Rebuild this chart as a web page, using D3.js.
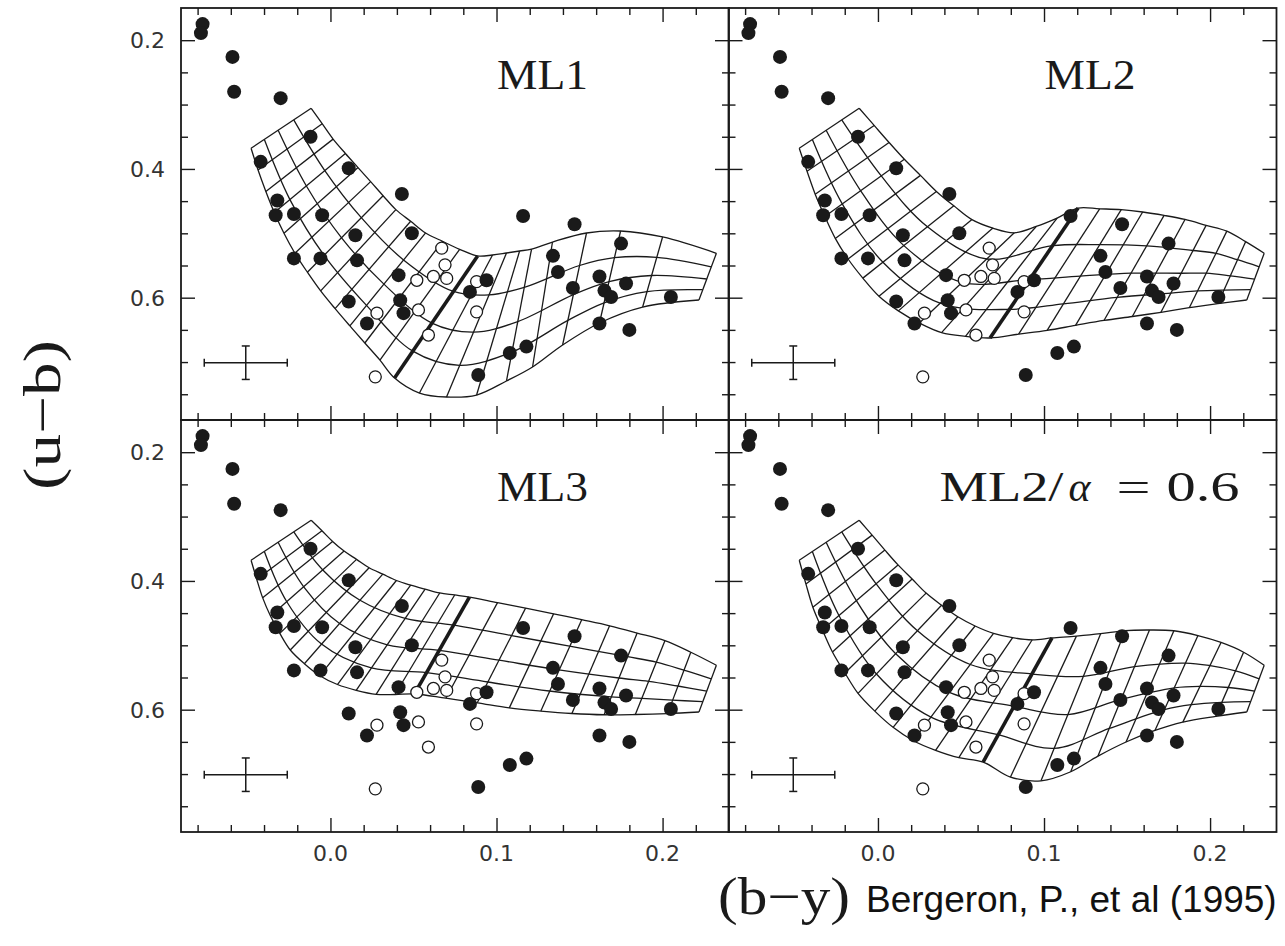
<!DOCTYPE html>
<html>
<head>
<meta charset="utf-8">
<script src="https://cdn.jsdelivr.net/npm/d3@7"></script>
<style>
body { margin: 0; background: #fff; }
</style>
</head>
<body>
<svg id="fig" width="1285" height="946"></svg>
<script>
// observed stars, (b-y) vs (u-b)
var filledStars = [
    [-0.077, 0.175], [-0.078, 0.189], [-0.059, 0.226], [-0.058, 0.280], [-0.030, 0.290],
    [-0.012, 0.350], [-0.042, 0.389], [0.011, 0.399], [0.043, 0.439], [-0.032, 0.449],
    [0.116, 0.473], [-0.033, 0.472], [-0.022, 0.470], [-0.005, 0.472], [0.015, 0.503],
    [0.049, 0.500], [-0.022, 0.539], [-0.006, 0.539], [0.016, 0.542], [0.041, 0.565],
    [0.094, 0.573], [0.084, 0.591], [0.011, 0.606], [0.042, 0.604], [0.044, 0.624],
    [0.022, 0.640], [0.108, 0.686], [0.118, 0.676], [0.089, 0.720], [0.147, 0.486],
    [0.175, 0.516], [0.134, 0.535], [0.137, 0.560], [0.162, 0.567], [0.146, 0.585],
    [0.165, 0.589], [0.169, 0.599], [0.178, 0.578], [0.205, 0.599], [0.162, 0.640],
    [0.180, 0.650]
];
var openStars = [
    [0.067, 0.523], [0.069, 0.549], [0.052, 0.573], [0.062, 0.567], [0.070, 0.570],
    [0.088, 0.575], [0.088, 0.622], [0.053, 0.619], [0.028, 0.624], [0.059, 0.658],
    [0.027, 0.723]
];
// typical error bar: centre and half sizes
var errorBar = [-0.051, 0.701, 0.025, 0.026];

var panelNames = ["ML1", "ML2", "ML3", "ML2/\u03b1=0.6"];
var xMajor = [0.0, 0.1, 0.2];
var xMinor = [-0.08, -0.06, -0.04, -0.02, 0.02, 0.04, 0.06, 0.08, 0.12, 0.14, 0.16, 0.18, 0.22];
var yMajor = [0.2, 0.4, 0.6];
var yMinor = [0.25, 0.3, 0.35, 0.45, 0.5, 0.55, 0.65, 0.7, 0.75];

// model grids: nodes of each Teff column on the upper and lower edge tracks,
// plus the three inner log g tracks; the thick column is picked by index

// ML1
var ml1Top = [
    [-0.0116, 0.3058], [-0.0050, 0.3297], [0.0016, 0.3537], [0.0090, 0.3760], [0.0166, 0.3979],
    [0.0242, 0.4197], [0.0317, 0.4416], [0.0394, 0.4632], [0.0483, 0.4813], [0.0573, 0.4994],
    [0.0675, 0.5124], [0.0778, 0.5248], [0.0886, 0.5352], [0.0976, 0.5337], [0.1060, 0.5306],
    [0.1139, 0.5275], [0.1211, 0.5244], [0.1337, 0.5135], [0.1542, 0.4995], [0.1747, 0.4964],
    [0.2000, 0.5057], [0.2324, 0.5310]
];
var ml1Bottom = [
    [-0.0478, 0.3679], [-0.0436, 0.4017], [-0.0389, 0.4349], [-0.0338, 0.4678], [-0.0280, 0.5000],
    [-0.0214, 0.5310], [-0.0139, 0.5604], [-0.0059, 0.5895], [0.0028, 0.6170], [0.0117, 0.6438],
    [0.0207, 0.6704], [0.0298, 0.6969], [0.0386, 0.7248], [0.0536, 0.7481], [0.0699, 0.7543],
    [0.0880, 0.7512], [0.1060, 0.7294], [0.1217, 0.7077], [0.1398, 0.6735], [0.1620, 0.6393],
    [0.1880, 0.6145], [0.2219, 0.6036]
];
var ml1Inner = [
    [[-0.0221, 0.3238], [-0.0034, 0.4026], [0.0187, 0.4761], [0.0440, 0.5413], [0.0740, 0.5902],
     [0.0955, 0.5955], [0.1167, 0.5839], [0.1500, 0.5500], [0.1710, 0.5379], [0.1965, 0.5373], [0.2293, 0.5520]],
    [[-0.0315, 0.3400], [-0.0145, 0.4265], [0.0067, 0.5070], [0.0322, 0.5789], [0.0611, 0.6395],
     [0.0861, 0.6536], [0.1128, 0.6371], [0.1463, 0.5952], [0.1678, 0.5750], [0.1934, 0.5655], [0.2266, 0.5710]],
    [[-0.0398, 0.3543], [-0.0244, 0.4476], [-0.0038, 0.5343], [0.0217, 0.6120], [0.0496, 0.6831],
     [0.0778, 0.7050], [0.1093, 0.6844], [0.1430, 0.6353], [0.1648, 0.6079], [0.1906, 0.5905], [0.2242, 0.5876]]
];

// ML2
var ml2Top = [
    [-0.0113, 0.3058], [-0.0023, 0.3324], [0.0067, 0.3589], [0.0159, 0.3850], [0.0256, 0.4100],
    [0.0352, 0.4349], [0.0457, 0.4573], [0.0566, 0.4787], [0.0692, 0.4919], [0.0821, 0.4992],
    [0.0953, 0.4894], [0.1079, 0.4764], [0.1205, 0.4607], [0.1335, 0.4619], [0.1465, 0.4633],
    [0.1594, 0.4669], [0.1723, 0.4722], [0.1849, 0.4785], [0.1976, 0.4876], [0.2101, 0.4966],
    [0.2214, 0.5130], [0.2326, 0.5310]
];
var ml2Bottom = [
    [-0.0474, 0.3679], [-0.0427, 0.4037], [-0.0378, 0.4392], [-0.0320, 0.4739], [-0.0257, 0.5079],
    [-0.0180, 0.5399], [-0.0091, 0.5696], [0.0006, 0.5977], [0.0123, 0.6205], [0.0249, 0.6393],
    [0.0383, 0.6542], [0.0527, 0.6600], [0.0675, 0.6626], [0.0847, 0.6567], [0.1019, 0.6508],
    [0.1190, 0.6430], [0.1361, 0.6354], [0.1532, 0.6292], [0.1704, 0.6227], [0.1875, 0.6156],
    [0.2047, 0.6093], [0.2221, 0.6036]
];
var ml2Inner = [
    [[-0.0218, 0.3238], [0.0020, 0.4108], [0.0298, 0.4899], [0.0655, 0.5399], [0.1051, 0.5192],
     [0.1335, 0.5177], [0.1618, 0.5196], [0.1897, 0.5267], [0.2035, 0.5310], [0.2165, 0.5410], [0.2296, 0.5520]],
    [[-0.0312, 0.3400], [-0.0104, 0.4340], [0.0156, 0.5191], [0.0506, 0.5762], [0.0913, 0.5717],
     [0.1219, 0.5665], [0.1524, 0.5620], [0.1826, 0.5620], [0.1977, 0.5620], [0.2122, 0.5660], [0.2268, 0.5710]],
    [[-0.0395, 0.3543], [-0.0215, 0.4543], [0.0030, 0.5449], [0.0374, 0.6086], [0.0792, 0.6182],
     [0.1117, 0.6095], [0.1440, 0.5996], [0.1764, 0.5930], [0.1924, 0.5895], [0.2084, 0.5881], [0.2244, 0.5876]]
];

// ML3
var ml3Top = [
    [-0.0116, 0.3058], [-0.0051, 0.3221], [0.0013, 0.3386], [0.0082, 0.3536], [0.0157, 0.3665],
    [0.0233, 0.3796], [0.0315, 0.3895], [0.0397, 0.3993], [0.0483, 0.4065], [0.0570, 0.4127],
    [0.0658, 0.4187], [0.0748, 0.4218], [0.0837, 0.4250], [0.1006, 0.4337], [0.1175, 0.4423],
    [0.1344, 0.4510], [0.1513, 0.4602], [0.1681, 0.4697], [0.1847, 0.4809], [0.2014, 0.4928],
    [0.2170, 0.5108], [0.2324, 0.5310]
];
var ml3Bottom = [
    [-0.0478, 0.3679], [-0.0444, 0.3973], [-0.0408, 0.4263], [-0.0361, 0.4545], [-0.0305, 0.4815],
    [-0.0242, 0.5073], [-0.0157, 0.5286], [-0.0064, 0.5472], [0.0042, 0.5609], [0.0155, 0.5699],
    [0.0275, 0.5761], [0.0389, 0.5764], [0.0506, 0.5756], [0.0695, 0.5822], [0.0884, 0.5893],
    [0.1077, 0.5972], [0.1267, 0.6022], [0.1454, 0.6059], [0.1648, 0.6079], [0.1836, 0.6075],
    [0.2030, 0.6061], [0.2219, 0.6036]
];
var ml3Inner = [
    [[-0.0221, 0.3238], [-0.0046, 0.3829], [0.0178, 0.4299], [0.0450, 0.4582], [0.0742, 0.4686],
     [0.1091, 0.4849], [0.1440, 0.5014], [0.1789, 0.5177], [0.1962, 0.5261], [0.2128, 0.5385], [0.2293, 0.5520]],
    [[-0.0315, 0.3400], [-0.0161, 0.4091], [0.0055, 0.4660], [0.0342, 0.4992], [0.0655, 0.5079],
     [0.1015, 0.5231], [0.1375, 0.5383], [0.1736, 0.5508], [0.1916, 0.5559], [0.2091, 0.5632], [0.2266, 0.5710]],
    [[-0.0398, 0.3543], [-0.0263, 0.4323], [-0.0054, 0.4980], [0.0246, 0.5352], [0.0579, 0.5425],
     [0.0948, 0.5570], [0.1318, 0.5710], [0.1689, 0.5800], [0.1875, 0.5823], [0.2058, 0.5851], [0.2242, 0.5876]]
];

// ML2 with alpha = 0.6
var ml2aTop = [
    [-0.0113, 0.3058], [-0.0035, 0.3288], [0.0042, 0.3521], [0.0121, 0.3751], [0.0206, 0.3971],
    [0.0290, 0.4189], [0.0383, 0.4378], [0.0481, 0.4557], [0.0585, 0.4700], [0.0696, 0.4815],
    [0.0811, 0.4882], [0.0929, 0.4914], [0.1048, 0.4886], [0.1195, 0.4857], [0.1341, 0.4820],
    [0.1488, 0.4771], [0.1635, 0.4762], [0.1782, 0.4774], [0.1927, 0.4849], [0.2066, 0.4956],
    [0.2202, 0.5107], [0.2326, 0.5310]
];
var ml2aBottom = [
    [-0.0474, 0.3679], [-0.0434, 0.4046], [-0.0392, 0.4408], [-0.0335, 0.4757], [-0.0274, 0.5104],
    [-0.0199, 0.5430], [-0.0120, 0.5747], [-0.0019, 0.6022], [0.0091, 0.6274], [0.0213, 0.6482],
    [0.0347, 0.6631], [0.0487, 0.6746], [0.0633, 0.6813], [0.0798, 0.7047], [0.0982, 0.7105],
    [0.1161, 0.6964], [0.1325, 0.6721], [0.1494, 0.6502], [0.1668, 0.6323], [0.1836, 0.6193],
    [0.2034, 0.6104], [0.2221, 0.6036]
];
var ml2aInner = [
    [[-0.0218, 0.3238], [-0.0011, 0.4045], [0.0238, 0.4775], [0.0556, 0.5298], [0.0928, 0.5446],
     [0.1237, 0.5483], [0.1545, 0.5331], [0.1851, 0.5276], [0.2000, 0.5315], [0.2153, 0.5396], [0.2296, 0.5520]],
    [[-0.0312, 0.3400], [-0.0130, 0.4306], [0.0107, 0.5132], [0.0430, 0.5731], [0.0819, 0.5946],
     [0.1144, 0.6076], [0.1464, 0.5840], [0.1785, 0.5660], [0.1940, 0.5637], [0.2110, 0.5655], [0.2268, 0.5710]],
    [[-0.0395, 0.3543], [-0.0235, 0.4537], [-0.0009, 0.5446], [0.0319, 0.6115], [0.0724, 0.6389],
     [0.1061, 0.6601], [0.1393, 0.6291], [0.1725, 0.5999], [0.1887, 0.5921], [0.2071, 0.5885], [0.2244, 0.5876]]
];

var thickColumn = 12;
var grids = [
    { top: ml1Top, bottom: ml1Bottom, inner: ml1Inner },
    { top: ml2Top, bottom: ml2Bottom, inner: ml2Inner },
    { top: ml3Top, bottom: ml3Bottom, inner: ml3Inner },
    { top: ml2aTop, bottom: ml2aBottom, inner: ml2aInner }
];

var W = 548, H = 412;
var origins = [[181, 8], [728.5, 8], [181, 420], [728.5, 420]];
var ink = "#1a1a1a";

var svg = d3.select("#fig");
svg.append("rect").attr("width", 1285).attr("height", 946).attr("fill", "#fff");

var x = d3.scaleLinear().domain([-0.09, 0.24]).range([0, W]);
var y = d3.scaleLinear().domain([0.15, 0.79]).range([0, H]);

var track = d3.line()
    .x(function(d) { return x(d[0]); })
    .y(function(d) { return y(d[1]); })
    .curve(d3.curveCatmullRom.alpha(0.5));

function ticks(g, axis, values, size, tx, ty) {
    g.append("g")
        .attr("transform", "translate(" + tx + "," + ty + ")")
        .call(axis.tickValues(values).tickSize(-size).tickFormat(""))
        .call(function(s) { s.select(".domain").remove(); })
        .selectAll("line").attr("stroke", ink).attr("stroke-width", 1.4);
}

origins.forEach(function(o, i) {
    var g = svg.append("g").attr("transform", "translate(" + o[0] + "," + o[1] + ")");
    var clip = "clip" + i;
    g.append("clipPath").attr("id", clip).append("rect").attr("width", W).attr("height", H);
    var plot = g.append("g").attr("clip-path", "url(#" + clip + ")");

    // model grid
    var grid = grids[i];
    [grid.top, grid.bottom].concat(grid.inner).forEach(function(r) {
        plot.append("path").attr("d", track(r))
            .attr("fill", "none").attr("stroke", ink).attr("stroke-width", 1.3);
    });
    grid.top.forEach(function(p, k) {
        var q = grid.bottom[k];
        plot.append("line")
            .attr("x1", x(p[0])).attr("y1", y(p[1]))
            .attr("x2", x(q[0])).attr("y2", y(q[1]))
            .attr("stroke", ink)
            .attr("stroke-width", k === thickColumn ? 3.6 : 1.3);
    });

    // stars
    plot.selectAll(".open").data(openStars).enter().append("circle")
        .attr("cx", function(d) { return x(d[0]); })
        .attr("cy", function(d) { return y(d[1]); })
        .attr("r", 6).attr("fill", "#fff").attr("stroke", ink).attr("stroke-width", 1.3);
    plot.selectAll(".filled").data(filledStars).enter().append("circle")
        .attr("cx", function(d) { return x(d[0]); })
        .attr("cy", function(d) { return y(d[1]); })
        .attr("r", 7).attr("fill", ink);

    // error bar
    var ex = errorBar[0], ey = errorBar[1], hx = errorBar[2], hy = errorBar[3];
    var eb = plot.append("g").attr("stroke", ink).attr("stroke-width", 1.5);
    eb.append("line").attr("x1", x(ex - hx)).attr("x2", x(ex + hx)).attr("y1", y(ey)).attr("y2", y(ey));
    eb.append("line").attr("x1", x(ex)).attr("x2", x(ex)).attr("y1", y(ey - hy)).attr("y2", y(ey + hy));
    [ex - hx, ex + hx].forEach(function(v) {
        eb.append("line").attr("x1", x(v)).attr("x2", x(v)).attr("y1", y(ey) - 4).attr("y2", y(ey) + 4);
    });
    [ey - hy, ey + hy].forEach(function(v) {
        eb.append("line").attr("x1", x(ex) - 4).attr("x2", x(ex) + 4).attr("y1", y(v)).attr("y2", y(v));
    });

    // ticks on all four sides, pointing inward
    ticks(g, d3.axisBottom(x), xMajor, 14, 0, H);
    ticks(g, d3.axisBottom(x), xMinor, 7, 0, H);
    ticks(g, d3.axisTop(x), xMajor, 14, 0, 0);
    ticks(g, d3.axisTop(x), xMinor, 7, 0, 0);
    ticks(g, d3.axisLeft(y), yMajor, 14, 0, 0);
    ticks(g, d3.axisLeft(y), yMinor, 7, 0, 0);
    ticks(g, d3.axisRight(y), yMajor, 14, W, 0);
    ticks(g, d3.axisRight(y), yMinor, 7, W, 0);

    g.append("rect").attr("width", W).attr("height", H)
        .attr("fill", "none").attr("stroke", ink).attr("stroke-width", 1.8);

    // tick labels
    if (i % 2 === 0) {
        g.selectAll(".ylab").data(yMajor).enter().append("text")
            .attr("x", -16).attr("y", function(d) { return y(d); })
            .attr("dy", "0.36em").attr("text-anchor", "end")
            .attr("font-family", "DejaVu Sans").attr("font-size", 22).attr("fill", "#333")
            .text(d3.format(".1f"));
    }
    if (i >= 2) {
        g.selectAll(".xlab").data(xMajor).enter().append("text")
            .attr("x", function(d) { return x(d); }).attr("y", H + 29)
            .attr("text-anchor", "middle")
            .attr("font-family", "DejaVu Sans").attr("font-size", 22).attr("fill", "#333")
            .text(d3.format(".1f"));
    }

    // panel title
    var title = g.append("text").attr("y", 81)
        .attr("font-family", "Liberation Serif").attr("font-size", 42).attr("fill", ink);
    if (i < 3) {
        title.attr("x", 316).attr("textLength", 91).attr("lengthAdjust", "spacingAndGlyphs")
            .text(panelNames[i]);
    } else {
        var parts = panelNames[i].split(/(\u03b1|=)/);
        // "ML2/", "α", "", "=", "0.6"
        title.append("tspan").attr("x", 211).attr("textLength", 124)
            .attr("lengthAdjust", "spacingAndGlyphs").text(parts[0]);
        title.append("tspan").attr("x", 340).attr("font-style", "italic").text(parts[1]);
        title.append("tspan").attr("x", 388).attr("textLength", 34)
            .attr("lengthAdjust", "spacingAndGlyphs").text(parts[3]);
        title.append("tspan").attr("x", 438).attr("textLength", 73)
            .attr("lengthAdjust", "spacingAndGlyphs").text(parts[4]);
    }
});

// axis titles
svg.append("text")
    .attr("transform", "translate(60,415) rotate(-90)")
    .attr("text-anchor", "middle")
    .attr("font-family", "Liberation Serif").attr("font-size", 52).attr("fill", ink)
    .attr("textLength", 150).attr("lengthAdjust", "spacingAndGlyphs")
    .text("(u\u2212b)");
svg.append("text")
    .attr("x", 718).attr("y", 914)
    .attr("font-family", "Liberation Serif").attr("font-size", 52).attr("fill", ink)
    .attr("textLength", 132).attr("lengthAdjust", "spacingAndGlyphs")
    .text("(b\u2212y)");
svg.append("text")
    .attr("x", 866).attr("y", 912)
    .attr("font-family", "Liberation Sans").attr("font-size", 37).attr("fill", "#111")
    .text("Bergeron, P., et al (1995)");
</script>
</body>
</html>
